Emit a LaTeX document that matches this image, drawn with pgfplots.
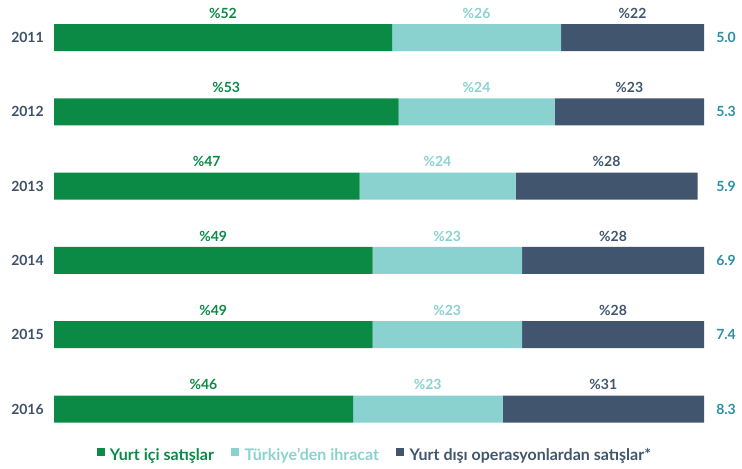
\documentclass[border=0pt]{standalone}
\usepackage{fontspec}
\setmainfont{Lato}
\usepackage{pgfplots}
\pgfplotsset{compat=1.18}
\usepackage{pgfplotstable}
\definecolor{cgreen}{HTML}{0B8A45}
\definecolor{cteal}{HTML}{89D2D0}
\definecolor{cdark}{HTML}{41566E}
\definecolor{cyear}{HTML}{3E5168}
\definecolor{cval}{HTML}{2A8FA5}

\pgfplotstableread{
row dom exp abr total
0 52 26 22 5.0
1 53 24 23 5.3
2 47 24 28 5.9
3 49 23 28 6.9
4 49 23 28 7.4
5 46 23 31 8.3
}\data

\newcommand{\lblfont}{\bfseries\fontsize{10.5}{12}\selectfont}

\pgfplotsset{
  pct/.style 2 args={
    fill=#1, draw=none,
    point meta=explicit symbolic,
    visualization depends on={\thisrow{#2} \as \rawx},
    nodes near coords={\%\pgfplotspointmeta},
    nodes near coords align={anchor=base},
    nodes near coords style={anchor=base, inner sep=0pt,
      yshift=14.4pt,
      font=\lblfont, text=#1},
  },
  common/.style={
    at={(40.5pt,16.39pt)}, anchor=south west,
    scale only axis, width=487.5pt, height=334.35pt,
    xmin=0, xmax=100, ymin=-0.5, ymax=5.5, y dir=reverse,
    ytick={0,...,5},
    xtick=\empty, major tick length=0pt,
    axis line style={draw=none},
  },
}

\begin{document}
\begin{tikzpicture}
\useasboundingbox (0,0) rectangle (556.5pt,351pt);
\begin{axis}[
  common,
  xbar stacked, bar width=20.25pt,
  yticklabels={2011,2012,2013,2014,2015,2016},
  yticklabel style={font=\lblfont, text=cyear, inner sep=0pt, anchor=east, xshift=-7.5pt},
  legend columns=3,
  legend image code/.code={\fill[#1] (0pt,0pt) rectangle (6pt,6pt);},
  legend style={at={(axis description cs:0.492,0)}, anchor=center, yshift=-6.9pt,
    draw=none, fill=none, font=\bfseries\fontsize{12}{14}\selectfont,
    nodes={inner sep=0pt},
    /tikz/every odd column/.append style={column sep=4pt},
    /tikz/every even column/.append style={column sep=13pt}},
]
\addplot[pct={cgreen}{dom}] table[x=dom,y=row,meta=dom]{\data};
\addlegendentry{\textcolor{cgreen}{Yurt içi satışlar}}
\addplot[pct={cteal}{exp}] table[x=exp,y=row,meta=exp]{\data};
\addlegendentry{\textcolor{cteal}{Türkiye’den ihracat}}
\addplot[pct={cdark}{abr}] table[x=abr,y=row,meta=abr]{\data};
\addlegendentry{\textcolor{cdark}{Yurt dışı operasyonlardan satışlar*}}
\end{axis}
\begin{axis}[
  common,
  yticklabel pos=right,
  yticklabels={5.0,5.3,5.9,6.9,7.4,8.3},
  yticklabel style={font=\lblfont, text=cval, inner sep=0pt, anchor=west, xshift=9pt},
]
\end{axis}
\end{tikzpicture}
\end{document}
